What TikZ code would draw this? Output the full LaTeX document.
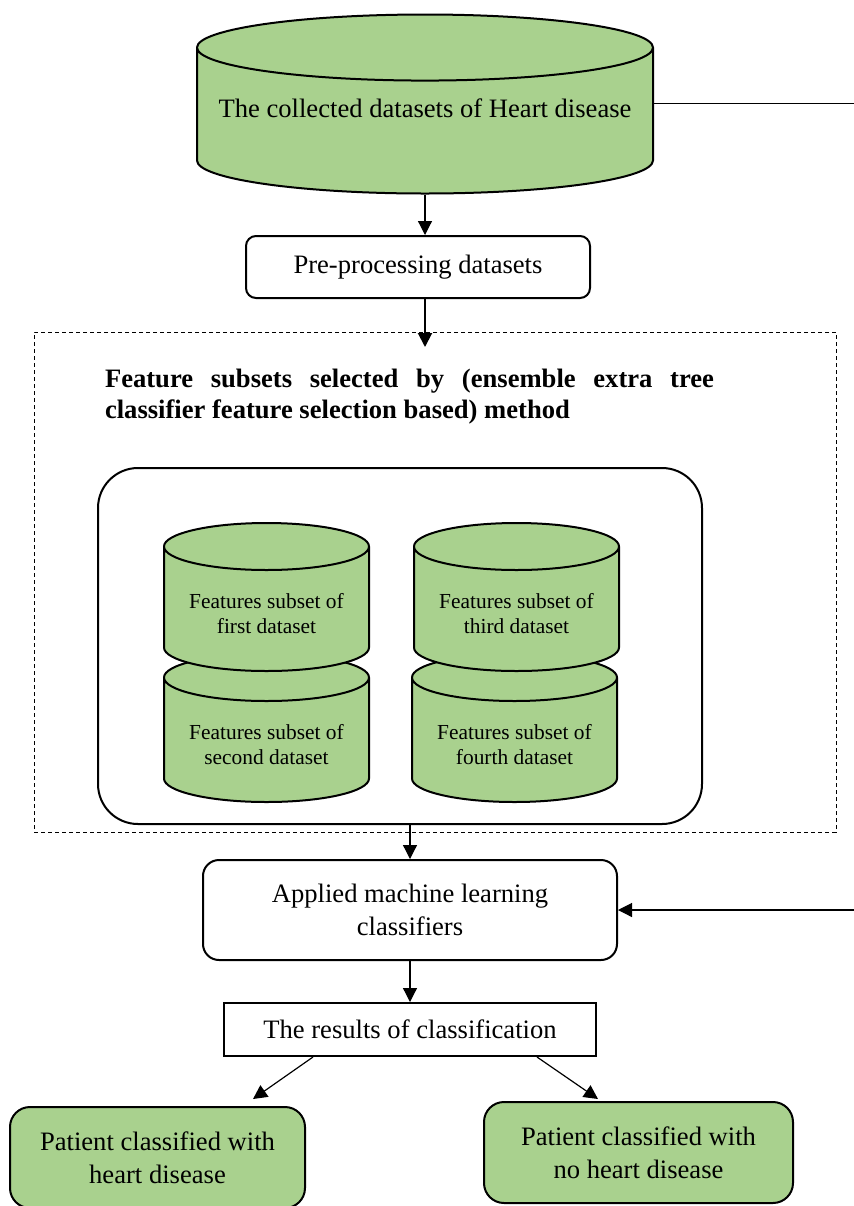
\documentclass[tikz,border=0pt]{standalone}
\usepackage{fontspec}
\setmainfont{Liberation Serif}
\usetikzlibrary{arrows.meta,calc,shapes.geometric}
\definecolor{leaf}{RGB}{169,209,142}

\begin{document}
\begin{tikzpicture}[x=0.5pt,y=-0.5pt,
  font=\fontsize{13.3}{16.5}\selectfont,
  drum/.style={cylinder,shape border rotate=90,draw,line width=1pt,fill=leaf,align=center,anchor=shape center},
  tub/.style={draw,line width=1pt,rounded corners=5pt,align=center},
  arr/.style={line width=0.6pt,-{Triangle[length=7pt,width=7pt]}}]
\useasboundingbox (0,0) rectangle (854,1206);

% source data and pre-processing
\node[drum,minimum width=228pt,minimum height=89.5pt,shape aspect=0.155,text height=0pt,text depth=7.7pt] (data) at (425,104)
  {The collected datasets of Heart disease};
\node[tub,minimum width=172pt,minimum height=31pt] (prep) at (418,267) {Pre-processing datasets};
\coordinate (fin) at (425,347);
\draw[arr] (data.south) -- (data.south |- prep.north);
\draw[arr,line width=1pt] (prep.south -| data.south) -- (fin);

% feature selection block
\node[draw,dash pattern=on 2pt off 1.5pt,minimum width=401pt,minimum height=250pt] (fsel) at (435,582) {};
\node[font=\bfseries\fontsize{13.3}{15.5}\selectfont,text width=304.5pt,align=justify] (ftitle) at (409.5,397)
  {Feature subsets selected by (ensemble extra tree\linebreak classifier feature selection based) method};
\node[draw,line width=1pt,rounded corners=20pt,minimum width=302pt,minimum height=178pt] (grp) at (400,646) {};
\tikzset{sub/.style={drum,font=\fontsize{10.7}{12.5}\selectfont,minimum width=102.5pt,minimum height=74pt,shape aspect=0.28}}
\node[sub] (sub2) at (266.5,728) {Features subset of\\second dataset};
\node[sub] (sub1) at (266.5,597) {Features subset of\\first dataset};
\node[sub] (sub4) at (514.5,728) {Features subset of\\fourth dataset};
\node[sub] (sub3) at (516.5,597) {Features subset of\\third dataset};

% classification
\node[tub,rounded corners=8pt,minimum width=207pt,minimum height=50pt] (clf) at (410,910)
  {Applied machine learning\\classifiers};
\draw[arr] (clf.north |- grp.south) -- (clf.north);
\coordinate (ft) at (854,103.5);
\coordinate (fb) at (854,910);
\draw[line width=0.6pt] (data.east |- ft) -- (ft);
\draw[arr] (fb) -- (clf.east);
\node[draw,line width=1pt,minimum width=186pt,minimum height=26.5pt] (res) at (410,1029.5)
  {The results of classification};
\draw[arr] (clf.south) -- (res.north);

% outcomes
\node[tub,fill=leaf,rounded corners=10pt,minimum width=147.5pt,minimum height=50.5pt] (pos) at (157.5,1157.5)
  {Patient classified with\\heart disease};
\node[tub,fill=leaf,rounded corners=10pt,minimum width=154.5pt,minimum height=50.5pt] (neg) at (638.5,1152.5)
  {Patient classified with\\no heart disease};
\draw[arr] ($(res.south)+(-97,0)$) -- ($(pos.north)+(95.5,-7)$);
\draw[arr] ($(res.south)+(127,0)$) -- ($(neg.north)+(-40.5,-2)$);
\end{tikzpicture}
\end{document}
